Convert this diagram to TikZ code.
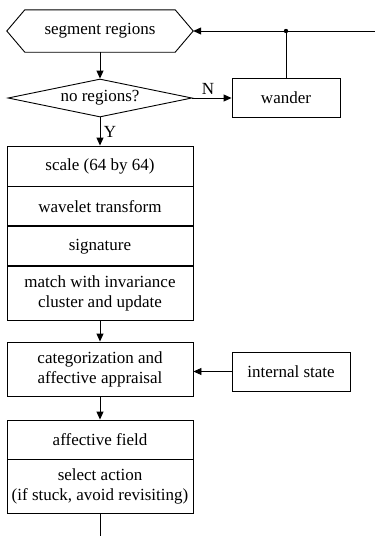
\documentclass[tikz,border=0pt]{standalone}
\usepackage{fontspec}
\setmainfont{Liberation Serif}
\usepackage{tikz}
\tikzstyle{blk} = [draw, rectangle, line width=0.9pt, minimum width=186pt, align=center, inner sep=0pt]
\tikzstyle{side} = [draw, rectangle, line width=0.9pt, inner sep=0pt]
\tikzstyle{arr} = [-{Triangle[length=8pt,width=7pt]}, line width=0.9pt]
\tikzstyle{ln} = [line width=0.9pt]
\usetikzlibrary{arrows.meta,positioning,shapes.geometric}

\begin{document}
\begin{tikzpicture}[
    x=1pt, y=-1pt,
    every node/.style={font=\fontsize{17}{20}\selectfont}
]
\useasboundingbox (0,0) rectangle (375,536);

% Nodes
\node[minimum width=150pt, minimum height=42pt, inner sep=0pt] (seg) at (100,31) {segment regions};
\coordinate (segL) at ([xshift=-18pt]seg.west);
\coordinate (segR) at ([xshift=18pt]seg.east);
\draw[ln] (segL) -- (seg.north west) -- (seg.north east) -- (segR)
          -- (seg.south east) -- (seg.south west) -- cycle;
\node[draw, diamond, aspect=4.8, minimum width=184pt, minimum height=38pt, inner sep=0pt,
      line width=0.9pt] (noreg) at (100,98) {no regions?};
\node[side, minimum width=108pt, minimum height=39pt] (wander) at (286,97.5) {wander};

\node[blk, minimum height=40pt] (scale) at (100,166) {scale (64 by 64)};
\node[blk, minimum height=39pt, below=0pt of scale] (wavelet) {wavelet transform};
\node[blk, minimum height=39pt, below=0pt of wavelet] (sig) {signature};
\node[blk, minimum height=54pt, below=0pt of sig] (match) {match with invariance\\cluster and update};

\node[blk, minimum height=54pt] (cat) at (100,369) {categorization and\\affective appraisal};
\node[side, minimum width=118pt, minimum height=39pt] (internal) at (291,371.5) {internal state};

\node[blk, minimum height=39pt] (afield) at (100,439.5) {affective field};
\node[blk, minimum height=54pt, below=0pt of afield] (select) {select action\\(if stuck, avoid revisiting)};

\coordinate (back) at (375,31);
\coordinate (join) at (wander.north |- segR);
\coordinate (exit) at (100,536);

% Arrows
\draw[arr] (seg.south) -- (noreg.north);
\draw[arr] (noreg.east) -- node[above, pos=0.4] {N} (noreg.east -| wander.west);
\draw[arr] (noreg) -- node[right] {Y} (scale);
\draw[arr] (back) -- (segR);
\draw[ln] (wander) -- (join);
\fill (join) circle (2.2pt);
\draw[arr] (match) -- (cat);
\draw[arr] (internal.west) -- (internal.west -| cat.east);
\draw[arr] (cat) -- (afield);
\draw[ln] (select) -- (exit);

\end{tikzpicture}
\end{document}
